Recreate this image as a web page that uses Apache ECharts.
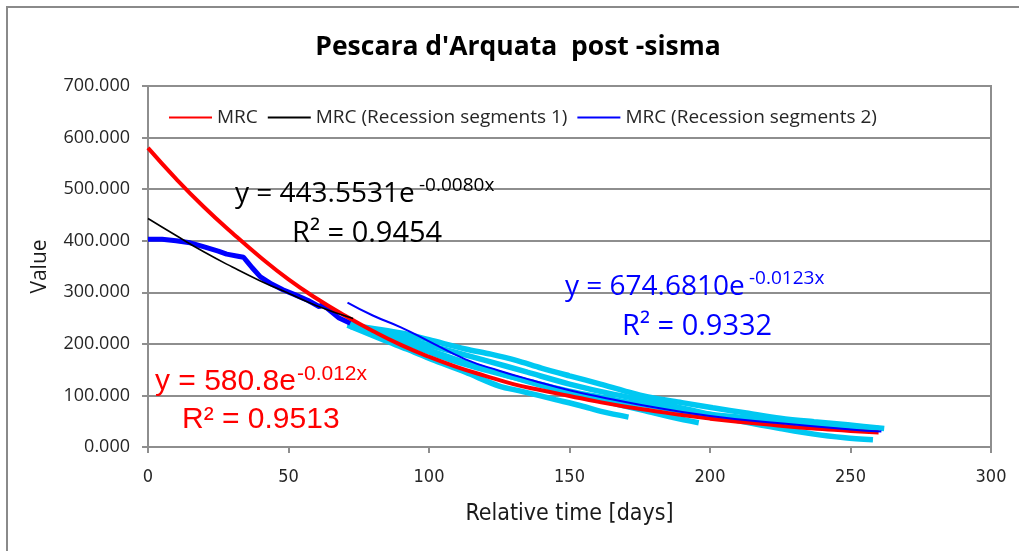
<!DOCTYPE html>
<html>
<head>
<meta charset="utf-8">
<script src="https://cdn.jsdelivr.net/npm/echarts@6/dist/echarts.min.js"></script>
<style>html,body{margin:0;padding:0;background:#fff}#c{width:1019px;height:551px}</style>
</head>
<body>
<div id="c"></div>
<script>
// ---- data ----
const mrcDays   = [0,10,20,30,40,50,60,70,80,90,100,110,120,130,140,150,160,170,180,190,200,210,220,230,240,250,260];
const mrcValues = [580,520,465,415,368,325,288,255,225,198,175,155,138,122,110,99,88,78,70,62,55,49,44,39,35,31,28];

const seg1FitDays   = [0,10,20,30,40,50,60,73];
const seg1FitValues = [443,410,378,349,322,298,274,249];

const seg2FitDays   = [71,80,90,100,113,125,137,150,161,175,200,225,250,261];
const seg2FitValues = [280,255,232,205,170,148,129,110,97,82,60,46,34,30];

const seg1DataDays   = [0,5,10,15,20,25,28,32,34,35.5,37,40,44,48,52,57,61,62,64,68,72];
const seg1DataValues = [403,403,400,396,388,380,374,370,368,358,348,330,316,305,296,284,272,276,268,250,240];

const seg2aDays   = [71,80,90,100,113,122,131,140,150,161,170,178,190,201,213,225,237,249,262];
const seg2aValues = [238,230,221,208,190,180,168,153,138,122,108,97,86,76,66,56,49,43,36];
const seg2bDays   = [71,84,92,101,113,125,133,145,154,162,171];
const seg2bValues = [236,207,190,170,145,118,108,92,80,68,58];
const seg2cDays   = [72,85,100,115,130,145,160,177,187,196];
const seg2cValues = [234,214,188,160,135,112,92,70,57,47];
const seg2dDays   = [75,90,105,120,135,150,165,180,201,213,225,237,248,258];
const seg2dValues = [232,212,190,168,145,122,103,88,62,48,36,25,18,14];
const seg2eDays   = [72,90,110,130,150,170,190,210,230,250,260];
const seg2eValues = [240,205,165,135,108,88,70,58,48,40,36];

const xTicks = [0,50,100,150,200,250,300];
const yTicks = [0,100,200,300,400,500,600,700];

const legendNames = ['MRC','MRC (Recession segments 1)','MRC (Recession segments 2)'];

function pairs(xs, ys){ return xs.map((x,i)=>[x, ys[i]]); }

const chart = echarts.init(document.getElementById('c'), null, {renderer:'canvas'});
const gridCol = '#8e8e8e';
const narrow = '"Liberation Sans Narrow","DejaVu Sans Condensed",sans-serif';
const cyan = '#00c8f2';

const cyanSeries = [
  [seg2aDays, seg2aValues],[seg2bDays, seg2bValues],[seg2cDays, seg2cValues],
  [seg2dDays, seg2dValues],[seg2eDays, seg2eValues]
].map((s,i)=>({
  name:'seg2data'+i, type:'line', data:pairs(s[0],s[1]), symbol:'none', smooth:0.3,
  lineStyle:{color:cyan, width:5.5}, itemStyle:{color:cyan}, z:1, silent:true
}));

function txt(x, y, text, fill, font){
  return {type:'text', x:x, y:y, z:100, silent:true,
    style:{text:text, fill:fill, font:font, textVerticalAlign:'middle'}};
}

chart.setOption({
  animation:false,
  backgroundColor:'#fff',
  grid:{left:148, right:28, top:86, bottom:104, show:true, borderColor:gridCol, borderWidth:2},
  legend:{
    data:legendNames, left:163, top:103, itemWidth:43, itemHeight:3, itemGap:9,
    itemStyle:{opacity:0},
    textStyle:{fontFamily:'"Open Sans"', fontSize:19, color:'#262626'}
  },
  xAxis:{
    type:'value', min:xTicks[0], max:xTicks[xTicks.length-1], interval:50,
    name:'Relative time [days]', nameLocation:'middle', nameGap:56,
    nameTextStyle:{fontFamily:narrow, fontSize:23, color:'#1a1a1a'},
    axisLine:{lineStyle:{color:gridCol, width:2}},
    axisTick:{show:true, length:6, lineStyle:{color:gridCol, width:2}},
    axisLabel:{fontFamily:narrow, fontSize:18, color:'#262626', margin:21},
    splitLine:{show:false}
  },
  yAxis:{
    type:'value', min:yTicks[0], max:yTicks[yTicks.length-1], interval:100,
    name:'Value', nameLocation:'middle', nameGap:97, nameRotate:90,
    nameTextStyle:{fontFamily:'"Open Sans"', fontSize:21, color:'#1a1a1a'},
    axisLine:{show:true, lineStyle:{color:gridCol, width:2}},
    axisTick:{show:true, length:6, lineStyle:{color:gridCol, width:2}},
    axisLabel:{fontFamily:'"Open Sans"', fontSize:18, color:'#262626', margin:18,
      formatter:v=>v.toFixed(3)},
    splitLine:{show:true, lineStyle:{color:gridCol, width:2}}
  },
  series:[
    ...cyanSeries,
    {name:'seg1data', type:'line', data:pairs(seg1DataDays, seg1DataValues), symbol:'none',
     lineStyle:{color:'#0000ff', width:5}, itemStyle:{color:'#0000ff'}, z:2, silent:true},
    {name:legendNames[0], type:'line', data:pairs(mrcDays, mrcValues), symbol:'none', smooth:true,
     lineStyle:{color:'#ff0000', width:4}, itemStyle:{color:'#ff0000'}, z:3},
    {name:legendNames[2], type:'line', data:pairs(seg2FitDays, seg2FitValues), symbol:'none', smooth:true,
     lineStyle:{color:'#0000ff', width:2}, itemStyle:{color:'#0000ff'}, z:4},
    {name:legendNames[1], type:'line', data:pairs(seg1FitDays, seg1FitValues), symbol:'none', smooth:true,
     lineStyle:{color:'#000000', width:1.6}, itemStyle:{color:'#000000'}, z:5}
  ],
  graphic:[
    {type:'rect', silent:true, z:-1, shape:{x:7,y:7,width:1100,height:1100},
     style:{fill:'none', stroke:'#8a8a8a', lineWidth:2}},
    {type:'text', x:518, y:47, z:100, style:{text:"Pescara d'Arquata  post -sisma", fill:'#000',
      font:'bold 26.5px "Open Sans"', textAlign:'center', textVerticalAlign:'middle'}},
    // black equation
    txt(235, 194, 'y = 443.5531e', '#000', '28px "Open Sans"'),
    txt(419, 186, '-0.0080x', '#000', '19px "Open Sans"'),
    txt(292, 234, 'R² = 0.9454', '#000', '29px "Open Sans"'),
    // blue equation
    txt(565, 287, 'y = 674.6810e', '#0000ff', '28px "Open Sans"'),
    txt(749, 279, '-0.0123x', '#0000ff', '19px "Open Sans"'),
    txt(622, 327, 'R² = 0.9332', '#0000ff', '29px "Open Sans"'),
    // red equation
    txt(155, 382, 'y = 580.8e', '#ff0000', '30px "Liberation Sans"'),
    txt(297, 374, '-0.012x', '#ff0000', '21px "Liberation Sans"'),
    txt(182, 420, 'R² = 0.9513', '#ff0000', '30px "Liberation Sans"')
  ]
});
</script>
</body>
</html>
